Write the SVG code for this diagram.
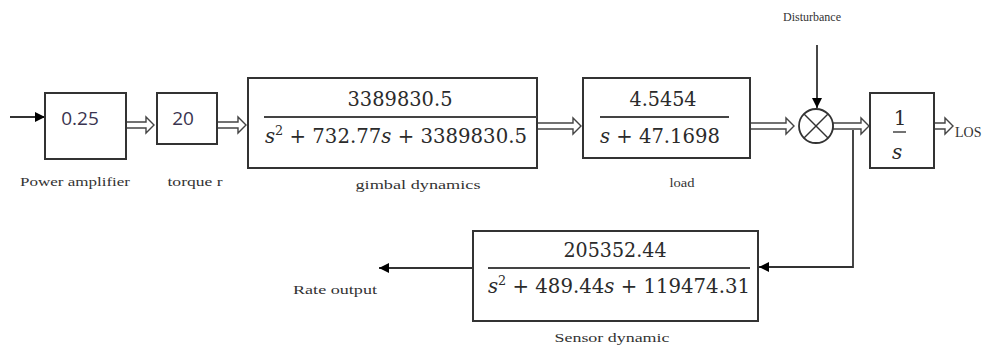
<svg xmlns="http://www.w3.org/2000/svg" width="994" height="350" viewBox="0 0 994 350">
<defs>
<marker id="ah" viewBox="0 0 10 10" refX="10" refY="5" markerWidth="10" markerHeight="10" markerUnits="userSpaceOnUse" orient="auto">
<path d="M0,0 L10,5 L0,10 z" fill="#000"/>
</marker>
</defs>
<style>
.box{fill:#fff;stroke:#333;stroke-width:2}
.ln{stroke:#333;stroke-width:1.8;fill:none}
.ha{fill:#fff;stroke:#444;stroke-width:1.4}
.m{font-family:"DejaVu Serif","Liberation Serif",serif;font-size:20px;fill:#2b2b2b;text-anchor:middle}
.g{font-family:"Open Sans","Liberation Sans",sans-serif;font-size:19px;fill:#3a3450;text-anchor:middle}
.lb{font-family:"Liberation Serif",serif;font-size:12px;fill:#333;text-anchor:middle}
.fl{stroke:#444;stroke-width:2}
</style>
<rect width="994" height="350" fill="#fff"/>
<g id="connectors">
<line class="ln" x1="10" y1="117" x2="45" y2="117" marker-end="url(#ah)"/>
<path class="ha" d="M126,122 H146 V117 L154,125 L146,133 V128 H126 Z"/>
<path class="ha" d="M217,122 H238 V117 L246,125 L238,133 V128 H217 Z"/>
<path class="ha" d="M537,123 H573 V118 L581,126 L573,134 V129 H537 Z"/>
<path class="ha" d="M750,123 H786 V118 L794,126 L786,134 V129 H750 Z"/>
<path class="ha" d="M833,123 H861 V118 L869,126 L861,134 V129 H833 Z"/>
<path class="ha" d="M934,123 H945 V118 L953,126 L945,134 V129 H934 Z"/>
<line class="ln" x1="817" y1="45" x2="817" y2="108" marker-end="url(#ah)"/>
<polyline class="ln" points="853,130 853,267 759,267" marker-end="url(#ah)"/>
<line class="ln" x1="473" y1="268" x2="379" y2="268" marker-end="url(#ah)"/>
</g>
<g id="power_amplifier">
<rect class="box" x="45" y="93" width="81" height="66"/>
<text class="g" x="80" y="125">0.25</text>
<text class="lb" x="75" y="186" textLength="110" lengthAdjust="spacingAndGlyphs">Power amplifier</text>
</g>
<g id="torquer">
<rect class="box" x="157" y="93" width="60" height="51"/>
<text class="g" x="183" y="125">20</text>
<text class="lb" x="195" y="186" textLength="55" lengthAdjust="spacingAndGlyphs">torque r</text>
</g>
<g id="gimbal_dynamics">
<rect class="box" x="248" y="78" width="289" height="90"/>
<line class="fl" x1="264" y1="117" x2="537" y2="117"/>
<text class="m" x="400" y="106" textLength="105" lengthAdjust="spacingAndGlyphs">3389830.5</text>
<text x="265" y="143" textLength="262" lengthAdjust="spacingAndGlyphs" style="font-family:'DejaVu Serif',serif;font-size:20px;fill:#2b2b2b"><tspan font-style="italic">s</tspan><tspan dy="-8" font-size="13">2</tspan><tspan dy="8"> + 732.77</tspan><tspan font-style="italic">s</tspan> + 3389830.5</text>
<text class="lb" x="418" y="189" textLength="125" lengthAdjust="spacingAndGlyphs">gimbal  dynamics</text>
</g>
<g id="load">
<rect class="box" x="583" y="78" width="167" height="80"/>
<line class="fl" x1="600" y1="117" x2="729" y2="117"/>
<text class="m" x="663" y="106" textLength="67" lengthAdjust="spacingAndGlyphs">4.5454</text>
<text x="600" y="143" textLength="120" lengthAdjust="spacingAndGlyphs" style="font-family:'DejaVu Serif',serif;font-size:20px;fill:#2b2b2b"><tspan font-style="italic">s</tspan> + 47.1698</text>
<text class="lb" x="682" y="187" textLength="25" lengthAdjust="spacingAndGlyphs" style="font-size:13px">load</text>
</g>
<g id="summing_junction">
<circle cx="816" cy="126" r="17" fill="#fff" stroke="#333" stroke-width="1.8"/>
<line class="ln" x1="804" y1="114" x2="828" y2="138" style="stroke-width:1.4"/>
<line class="ln" x1="828" y1="114" x2="804" y2="138" style="stroke-width:1.4"/>
<text class="lb" x="812" y="21" textLength="58" lengthAdjust="spacingAndGlyphs">Disturbance</text>
</g>
<g id="integrator">
<rect class="box" x="870" y="93" width="64" height="75"/>
<text class="m" x="900" y="125">1</text>
<line class="fl" x1="893" y1="132" x2="906" y2="132" style="stroke-width:1.5"/>
<text x="892" y="159" style="font-family:'DejaVu Serif',serif;font-style:italic;font-size:20px;fill:#2b2b2b">s</text>
<text x="955" y="137" style="font-family:'Liberation Serif',serif;font-size:14px;fill:#333">LOS</text>
</g>
<g id="sensor_dynamic">
<rect class="box" x="473" y="231" width="285" height="90"/>
<line class="fl" x1="488" y1="268" x2="750" y2="268"/>
<text class="m" x="615" y="257" textLength="103" lengthAdjust="spacingAndGlyphs">205352.44</text>
<text x="488" y="293" textLength="262" lengthAdjust="spacingAndGlyphs" style="font-family:'DejaVu Serif',serif;font-size:20px;fill:#2b2b2b"><tspan font-style="italic">s</tspan><tspan dy="-8" font-size="13">2</tspan><tspan dy="8"> + 489.44</tspan><tspan font-style="italic">s</tspan> + 119474.31</text>
<text class="lb" x="612" y="342" textLength="115" lengthAdjust="spacingAndGlyphs">Sensor dynamic</text>
<text class="lb" x="335" y="294" textLength="84" lengthAdjust="spacingAndGlyphs">Rate output</text>
</g>
</svg>
